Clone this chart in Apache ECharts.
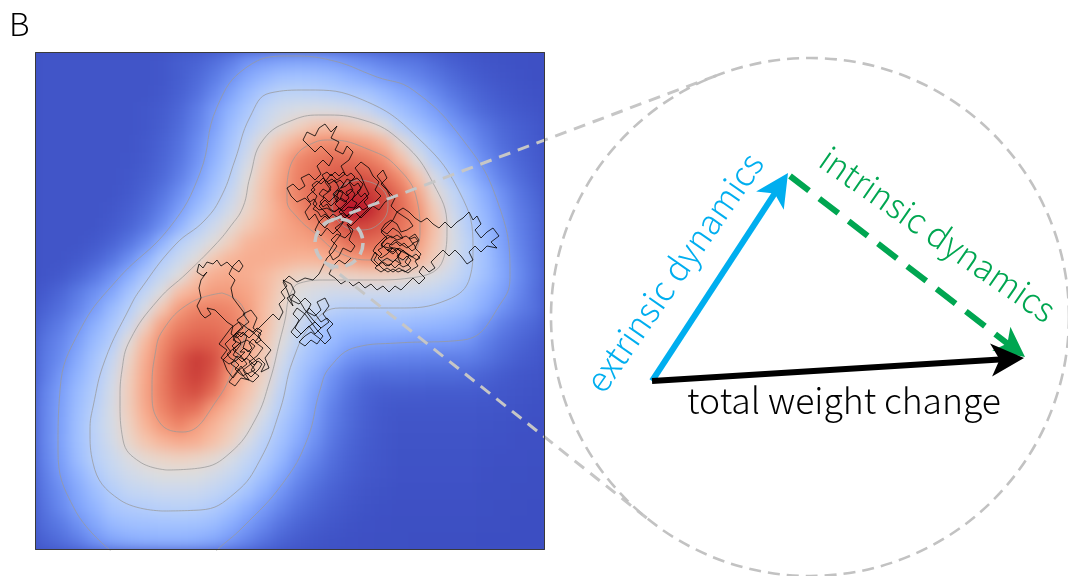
<!DOCTYPE html>
<html><head><meta charset="utf-8">
<script src="https://cdn.jsdelivr.net/npm/echarts@6/dist/echarts.min.js"></script>
<style>
html,body{margin:0;padding:0;background:#fff;}
#wrap{position:relative;width:1068px;height:576px;overflow:hidden;}
#heatClip{position:absolute;left:35px;top:52px;width:510px;height:498px;overflow:hidden;background:#3e50c3;}
#heat{position:absolute;left:-20px;top:-20px;width:550px;height:538px;filter:blur(6.5px);}
#main{position:absolute;left:0;top:0;width:1068px;height:576px;}
</style>
</head><body><div id="wrap"><div id="heatClip"><div id="heat"></div></div><div id="main"></div></div>
<script>
// ---------- density field (rows top -> bottom, 30 x 30 cells) ----------
const colCats = [0,1,2,3,4,5,6,7,8,9,10,11,12,13,14,15,16,17,18,19,20,21,22,23,24,25,26,27,28,29];
const rowCats = [0,1,2,3,4,5,6,7,8,9,10,11,12,13,14,15,16,17,18,19,20,21,22,23,24,25,26,27,28,29];
const density = [
[0.1,0.1,0.1,0.1,0.1,0.1,0.1,0.13,0.2,0.25,0.38,0.55,0.84,0.95,1.05,1.08,1.05,0.98,0.85,0.72,0.6,0.5,0.45,0.33,0.22,0.15,0.1,0.08,0.06,0.05],
[0.1,0.1,0.1,0.1,0.1,0.1,0.1,0.13,0.2,0.33,0.52,0.8,1.15,1.4,1.6,1.65,1.6,1.5,1.33,1.15,0.95,0.8,0.65,0.5,0.35,0.23,0.15,0.1,0.07,0.05],
[0.1,0.1,0.1,0.1,0.1,0.1,0.1,0.14,0.24,0.4,0.7,1.08,1.48,1.87,2.15,2.15,2.1,1.97,1.85,1.73,1.47,1.2,1.0,0.72,0.5,0.35,0.23,0.15,0.1,0.07],
[0.1,0.1,0.1,0.1,0.1,0.1,0.12,0.18,0.31,0.55,0.93,1.35,1.78,2.3,2.6,2.75,2.8,2.75,2.64,2.38,1.9,1.6,1.3,1.0,0.72,0.48,0.32,0.22,0.15,0.1],
[0.1,0.1,0.1,0.1,0.1,0.1,0.13,0.2,0.36,0.62,1.02,1.53,2.02,2.49,2.96,3.2,3.4,3.47,3.35,3.18,2.85,2.05,1.68,1.32,0.97,0.72,0.48,0.32,0.22,0.15],
[0.1,0.1,0.1,0.1,0.1,0.1,0.15,0.25,0.42,0.74,1.18,1.69,2.32,3.05,3.4,3.7,4.03,4.1,3.95,3.85,3.6,3.05,2.23,1.7,1.3,0.9,0.6,0.38,0.25,0.16],
[0.1,0.1,0.1,0.1,0.1,0.11,0.16,0.28,0.48,0.82,1.32,1.86,2.6,3.23,3.69,4.15,4.35,4.5,4.5,4.35,4.05,3.5,2.9,2.0,1.57,1.15,0.75,0.48,0.3,0.18],
[0.1,0.1,0.1,0.1,0.1,0.12,0.2,0.33,0.58,0.97,1.5,2.05,2.87,3.37,3.8,4.25,4.5,4.75,4.9,4.85,4.5,4.05,3.42,2.66,1.88,1.42,0.95,0.6,0.38,0.22],
[0.1,0.1,0.1,0.1,0.1,0.15,0.26,0.45,0.78,1.23,1.73,2.33,3.03,3.45,3.87,4.24,4.59,4.95,5.5,5.45,5.0,4.44,3.8,3.07,2.36,1.74,1.23,0.8,0.48,0.28],
[0.1,0.1,0.1,0.1,0.12,0.21,0.35,0.6,1.0,1.52,2.05,2.63,3.12,3.45,3.78,4.1,4.57,5.0,5.95,5.7,5.1,4.57,4.02,3.3,2.56,1.87,1.38,0.9,0.55,0.35],
[0.1,0.1,0.1,0.1,0.16,0.27,0.47,0.8,1.34,1.97,2.49,3.0,3.3,3.55,3.75,3.9,4.1,4.54,5.05,5.1,4.8,4.42,4.05,3.45,2.78,1.98,1.48,1.0,0.6,0.37],
[0.1,0.1,0.1,0.15,0.26,0.45,0.78,1.36,2.05,2.48,2.92,3.25,3.6,3.7,3.75,3.8,3.85,4.05,4.48,4.55,4.4,4.3,3.9,3.37,2.8,2.15,1.59,1.06,0.65,0.4],
[0.1,0.1,0.15,0.26,0.45,0.78,1.3,1.95,2.43,2.9,3.35,3.6,3.7,3.7,3.65,3.6,3.6,3.7,3.85,4.0,4.0,4.0,3.67,3.25,2.7,2.1,1.62,1.14,0.7,0.42],
[0.1,0.15,0.28,0.48,0.8,1.25,1.82,2.36,2.87,3.4,3.7,3.75,3.7,3.55,3.35,3.15,3.1,3.1,3.17,3.2,3.2,3.1,3.0,2.74,2.45,2.0,1.6,1.17,0.75,0.44],
[0.16,0.3,0.52,0.8,1.13,1.68,2.26,2.88,3.48,3.7,3.9,3.9,3.8,3.55,3.22,2.85,2.7,2.55,2.55,2.55,2.55,2.5,2.44,2.3,2.05,1.72,1.38,1.05,0.68,0.4],
[0.25,0.4,0.65,1.0,1.48,2.0,2.73,3.36,3.92,4.2,4.25,4.15,3.9,3.5,3.12,2.77,2.45,2.1,1.96,1.96,1.96,1.95,1.88,1.8,1.67,1.5,1.2,0.83,0.58,0.4],
[0.36,0.55,0.88,1.3,1.75,2.39,3.21,3.86,4.25,4.45,4.45,4.3,3.95,3.5,3.05,2.46,1.9,1.62,1.54,1.5,1.5,1.5,1.43,1.38,1.3,1.15,0.83,0.58,0.4,0.28],
[0.45,0.68,1.03,1.5,1.95,2.95,3.55,4.1,4.55,4.75,4.7,4.4,3.83,3.39,2.9,2.17,1.68,1.47,1.19,1.09,1.05,1.0,0.97,0.96,0.95,0.85,0.6,0.42,0.29,0.19],
[0.5,0.75,1.2,1.69,2.31,3.12,3.7,4.24,4.85,5.3,5.0,4.2,3.71,3.27,2.66,1.89,1.53,1.17,0.84,0.7,0.66,0.63,0.61,0.59,0.58,0.57,0.45,0.32,0.21,0.15],
[0.53,0.9,1.35,1.82,2.51,3.22,3.76,4.3,4.9,5.25,4.85,3.95,3.56,3.16,2.42,1.74,1.29,0.84,0.57,0.4,0.38,0.37,0.36,0.35,0.35,0.33,0.26,0.18,0.13,0.1],
[0.63,1.0,1.48,1.94,2.62,3.25,3.79,4.3,4.8,5.0,4.5,3.79,3.41,3.03,2.16,1.6,1.11,0.72,0.43,0.26,0.21,0.2,0.19,0.18,0.18,0.18,0.16,0.13,0.1,0.08],
[0.65,1.03,1.55,2.06,2.69,3.25,3.74,4.2,4.55,4.45,3.88,3.56,3.23,2.76,1.97,1.48,1.0,0.6,0.38,0.23,0.15,0.13,0.12,0.12,0.12,0.12,0.11,0.1,0.08,0.06],
[0.65,1.05,1.59,2.12,2.67,3.18,3.6,3.95,4.2,3.9,3.62,3.34,3.06,2.41,1.79,1.33,0.92,0.55,0.35,0.21,0.14,0.1,0.1,0.1,0.1,0.1,0.09,0.08,0.06,0.05],
[0.65,1.06,1.59,2.1,2.61,3.1,3.38,3.6,3.72,3.68,3.45,3.2,2.7,2.1,1.63,1.19,0.8,0.48,0.3,0.18,0.12,0.09,0.09,0.09,0.09,0.09,0.07,0.07,0.05,0.05],
[0.63,1.0,1.53,2.04,2.42,2.8,3.05,3.15,3.2,3.15,3.05,2.72,2.31,1.89,1.42,0.95,0.65,0.4,0.25,0.16,0.11,0.08,0.08,0.08,0.08,0.08,0.06,0.05,0.05,0.04],
[0.55,0.92,1.33,1.8,2.23,2.55,2.72,2.85,2.85,2.83,2.64,2.4,2.03,1.59,1.15,0.75,0.5,0.33,0.22,0.14,0.1,0.07,0.07,0.07,0.07,0.07,0.05,0.04,0.04,0.03],
[0.5,0.78,1.17,1.56,1.94,2.25,2.35,2.45,2.45,2.43,2.25,2.05,1.7,1.27,0.88,0.58,0.38,0.25,0.16,0.1,0.08,0.06,0.06,0.06,0.06,0.06,0.04,0.04,0.03,0.03],
[0.43,0.7,1.05,1.36,1.73,1.88,1.95,2.05,2.07,2.05,1.88,1.6,1.26,0.93,0.65,0.42,0.28,0.18,0.12,0.08,0.06,0.05,0.05,0.05,0.05,0.05,0.04,0.03,0.03,0.02],
[0.36,0.52,0.8,1.12,1.43,1.58,1.6,1.64,1.64,1.62,1.5,1.25,0.95,0.68,0.43,0.28,0.18,0.12,0.08,0.06,0.05,0.04,0.04,0.04,0.04,0.04,0.03,0.03,0.02,0.02],
[0.25,0.38,0.55,0.84,1.08,1.2,1.27,1.3,1.3,1.25,1.12,0.9,0.65,0.43,0.27,0.17,0.11,0.08,0.06,0.05,0.04,0.04,0.03,0.03,0.03,0.03,0.02,0.02,0.02,0.02]
];

// ---------- contour lines in weight-space units (x 0..510, y 0..498 downward) ----------
const contourA = [[75,498],[40,458],[23,398],[25,338],[45,278],[82,228],[135,175],[165,121],[182,55],[212,15],[255,4],[295,8],[342,25],[378,38],[428,88],[462,148],[475,221],[468,248],[428,288],[362,291],[322,295],[295,315],[285,338],[272,388],[248,431],[208,475],[182,498],[165,515],[95,515],[75,498]];
const contourB = [[128,459],[85,448],[58,411],[55,378],[58,355],[70,308],[95,255],[105,238],[140,193],[170,168],[187,143],[200,108],[215,65],[235,41],[272,38],[328,48],[382,85],[425,141],[438,195],[435,225],[412,248],[362,256],[305,256],[278,271],[258,308],[245,358],[225,408],[200,441],[165,458],[128,459]];
const contourC = [[132,418],[105,410],[88,388],[85,348],[87,318],[95,288],[123,248],[152,221],[180,193],[195,175],[208,155],[215,125],[228,88],[258,68],[288,63],[328,68],[368,91],[398,131],[412,175],[408,208],[382,225],[335,228],[292,228],[265,231],[255,243],[250,268],[245,288],[235,328],[220,368],[195,401],[165,416],[132,418]];
const contourD1 = [[252,135],[258,108],[278,91],[295,88],[335,98],[362,115],[382,148],[385,181],[368,208],[335,208],[305,201],[282,183],[262,165],[252,148],[252,135]];
const contourD2 = [[187,241],[205,251],[211,271],[202,305],[182,348],[148,380],[125,371],[117,338],[120,303],[128,278],[155,251],[187,241]];
const contourE = [[325,128],[345,135],[353,153],[345,171],[325,178],[305,171],[297,153],[305,135],[325,128]];

// ---------- trajectory (weight-space units) ----------
const walk = [
[200,300],[206,292],[198,288],[204,280],[212,284],[208,296],[216,300],[210,308],[202,304],[196,312],[204,318],[198,326],[192,318],[188,308],[196,300],[190,292],[198,284],[206,276],[214,270],[208,262],[216,258],[222,266],[218,276],[226,282],[220,290],[228,296],[222,304],[214,310],[220,318],[212,322],[206,314],[200,322],[194,330],[200,334],[206,326],[214,328],[208,318],[216,312],[224,306],[230,312],[226,320],[234,316],[230,306],[236,298],[228,290],[220,282],[212,276],[204,270],[196,276],[190,284],[184,292],[192,298],[186,306],[194,312],[202,308],[210,300],
[205,300],[209,296],[213,300],[217,296],[214,291],[218,287],[222,291],[226,288],[223,283],[227,279],[222,276],[218,280],[214,277],[210,281],[206,285],[202,281],[198,285],[201,290],[197,294],[201,298],[198,303],[203,306],[207,310],[211,306],[215,309],[219,313],[223,309],[227,312],[224,317],[220,321],[216,325],[212,321],[208,324],[204,321],[200,317],[204,313],[200,309],[195,306],[192,302],
[204,292],[212,288],[220,294],[214,302],[222,310],[216,318],[224,324],[218,330],[210,326],[204,318],[212,312],[206,304],[198,298],[206,290],[200,282],[208,276],[202,268],[210,262],
[204,254],[198,246],[196,236],[200,228],[194,222],[198,214],[204,208],[208,214],[204,220],[198,216],[192,210],[186,214],[182,208],[178,212],[172,210],[168,216],[164,212],[162,220],[168,224],[172,220],[166,228],[164,236],[166,246],[162,254],[166,262],[170,266],[176,262],[172,256],[180,258],[186,264],[192,270],[198,274],[196,282],[202,286],[208,280],[214,286],[220,280],[226,274],[232,268],
[238,262],[244,268],[248,260],[244,252],[250,246],[246,240],[252,234],[248,228],[256,232],[260,240],[256,248],[264,252],[270,246],[276,252],[272,260],[280,264],[286,258],[282,250],[290,246],[294,254],[288,262],[294,270],[286,276],[280,270],[272,276],[266,282],[260,276],[264,268],[258,262],[262,256],[270,262],[276,270],[282,278],[288,284],[282,292],[276,288],[270,294],[264,290],[270,284],[276,280],[284,286],[290,292],[296,286],[292,278],[298,272],[292,266],[286,270],[280,262],[274,256],[268,264],[262,272],[256,280],[262,286],[268,280],[274,274],[280,282],[286,276],[278,268],[270,258],[264,248],[258,242],[252,246],[258,254],[252,238],
[248,230],[254,224],[262,230],[270,226],[278,228],[284,222],[288,214],[292,206],[298,200],[302,194],[296,188],[302,182],[310,186],[316,180],[312,172],[318,178],[314,188],[320,194],[316,200],[308,196],[304,204],[298,208],[294,200],[300,190],
[306,182],[300,176],[308,170],[302,164],[296,170],[290,164],[284,170],[280,162],[274,168],[270,160],[276,152],[270,146],[262,150],[256,144],[252,136],[258,132],[264,138],[270,134],[266,126],[274,122],[280,128],[286,122],[282,114],[288,108],[294,114],[298,106],[292,100],[286,94],[280,100],[274,94],[268,88],[272,80],[280,84],[284,76],[290,72],[296,80],[302,74],[296,86],[304,90],[300,98],[308,102],[312,94],[318,100],[314,108],[306,114],[310,122],[302,128],[296,122],[290,130],[296,138],[288,144],[294,150],[300,144],[306,138],[312,144],[318,138],[314,130],[322,126],[328,132],[324,140],[316,148],[310,154],[304,160],[310,166],[316,160],[322,154],[328,148],[334,142],[330,134],[326,124],[320,116],[326,110],[334,116],[338,124],[344,130],[340,138],[346,144],[340,150],[334,156],[328,162],[322,168],[316,174],[310,168],[304,176],[298,182],[292,176],[286,184],[280,178],[284,170],[290,176],
[296,168],[290,160],[284,154],[290,148],[296,154],
[300,150],[304,146],[299,143],[303,138],[308,141],[305,147],[310,150],[314,146],[311,140],[316,137],[320,142],[317,148],[322,151],[319,156],[313,155],[309,159],[304,156],[300,160],[295,157],[292,152],[288,155],[285,150],[289,146],[284,142],[288,137],[293,140],[296,135],[292,130],[297,127],[301,131],[305,128],[309,132],[306,136],[311,134],[315,130],[319,134],[323,131],[326,136],[322,140],[326,145],[330,141],[333,146],[329,150],[333,155],[328,158],[324,154],[320,158],[316,162],[311,164],[307,161],[302,165],[298,162],[294,166],[290,162],[286,165],[283,160],[278,157],[282,152],[279,147],[275,150],[272,145],[276,141],[280,138],[277,133],[282,129],[286,132],[290,128],[287,123],[292,120],[296,124],[300,120],[304,124],[308,120],[312,124],[316,121],[320,125],[316,129],[312,127],[308,133],[304,138],[302,144],
[302,150],[298,142],[304,136],[300,128],[294,132],[288,126],[282,132],[276,138],[282,144],[278,152],[284,158],[292,156],[298,160],[306,156],[312,150],[306,146],[300,152],[308,160],[314,166],[320,160],[326,166],[332,160],[338,154],[344,158],[350,150],[356,146],[352,138],[346,132],[352,126],[348,118],[342,124],[348,132],[354,140],[360,146],[356,154],[362,160],[358,168],[352,174],[346,180],[352,186],
[346,192],[352,198],[358,196],[352,202],[346,206],[340,200],[336,208],[342,214],[348,210],[354,214],[360,208],[366,212],[362,204],[368,198],[374,204],[370,210],[376,216],[370,220],[364,216],[358,220],[352,216],[346,220],[340,216],[346,210],[352,206],[358,210],[364,204],[360,198],[354,194],[360,188],[366,192],[372,196],[378,192],[374,186],[380,182],[384,188],[380,196],[386,202],[382,208],[376,204],[370,200],[364,196],[358,202],[352,198],
[350,200],[354,196],[358,200],[362,196],[366,200],[363,205],[368,208],[372,204],[376,208],[373,213],[368,215],[364,212],[360,216],[356,212],[351,214],[347,210],[343,206],[347,202],[343,198],[348,195],[352,191],[357,193],[361,190],[365,194],[369,191],[373,195],[377,199],[381,196],[378,191],[383,189],[380,185],[375,187],[371,184],[366,186],[362,183],[357,186],[353,183],[349,186],[345,190],[341,194],[338,199],[342,203],[339,208],[343,212],[348,217],[353,220],[358,217],[363,220],[368,218],[373,221],[378,217],[383,214],[380,209],[385,206],[381,202],[377,205],[372,202],[366,199],[360,196],[354,196],[350,195],
[346,194],[350,188],[356,184],[362,188],[368,186],[364,180],[358,176],[352,182],[346,178],[350,172],[356,168],[362,172],[366,180],[372,178],[378,174],[374,168],[368,164],[362,160],[368,156],[374,160],[380,166],[386,170],[392,166],
[398,172],[404,176],[410,170],[416,176],[422,170],[428,166],[434,160],[438,168],[442,164],[446,172],[440,178],[446,186],[452,180],[458,176],[464,184],[456,190],[462,196],[452,194],[446,200],[440,194],[434,200],[438,208],[432,212],[426,204],[420,198],[414,204],[408,198],[402,204],[396,210],[400,216],[394,220],[388,214],[384,220],[390,226],
[384,232],[378,226],[372,232],[366,238],[360,234],[354,240],[348,234],[342,238],[336,232],[330,236],[324,230],[318,234],[312,228],[306,232],[300,226],[294,222],[298,214],[304,208],[310,212],[316,206]
];

// ---------- right-hand vector diagram (canvas units) ----------
const vecTail = [652, 381];
const extrinsicTip = [788, 173];
const intrinsicStart = [790, 176];
const intrinsicTip = [1025, 357];
const totalTip = [1024, 358];
const lensSmall = { c: [339, 243], r: 24 };
const lensBig = { c: [810, 317], r: 259 };

// ---------- colour scale: coolwarm, with the level -> tone mapping ----------
const coolwarmTable = [[59,76,192],[68,90,204],[77,104,215],[87,117,225],[98,130,234],[108,142,241],[119,154,247],[130,165,251],[141,176,254],[152,185,255],[163,194,255],[174,201,253],[184,208,249],[194,213,244],[204,217,238],[213,219,230],[221,221,221],[229,216,209],[236,211,197],[241,204,185],[245,196,173],[247,187,160],[247,177,148],[247,166,135],[244,154,123],[241,141,111],[236,127,99],[229,112,88],[222,96,77],[213,80,66],[203,62,56],[192,40,47],[180,4,38]];
const toneAtHalfLevels = [0,0.1,0.2,0.29,0.37,0.44,0.52,0.65,0.77,0.85,0.91,0.96,1.0];
function lerp(a, b, f) { return a + (b - a) * f; }
function cw(t) { const p = Math.max(0, Math.min(1, t)) * 32, i = Math.min(31, Math.floor(p)), f = p - i;
  const a = coolwarmTable[i], b = coolwarmTable[i + 1];
  return 'rgb(' + [0,1,2].map(k => Math.round(lerp(a[k], b[k], f))).join(',') + ')'; }
const heatColors = [];
for (let s = 0; s <= 48; s++) { const v = s / 8, p = v * 2, i = Math.min(11, Math.floor(p)), f = p - i;
  heatColors.push(cw(lerp(toneAtHalfLevels[i], toneAtHalfLevels[i + 1], f))); }

const heatData = [];
density.forEach((row, j) => row.forEach((v, i) => heatData.push([i, j, v])));

// ---------- bottom layer: the density heatmap ----------
const heat = echarts.init(document.getElementById('heat'));
heat.setOption({
  animation: false,
  backgroundColor: '#3e50c3',
  grid: { left: 20, top: 20, width: 510, height: 498, show: false },
  xAxis: { type: 'category', data: colCats, show: false },
  yAxis: { type: 'category', data: rowCats, inverse: true, show: false },
  visualMap: { show: false, type: 'continuous', min: 0, max: 6, inRange: { color: heatColors } },
  series: [{ type: 'heatmap', data: heatData, silent: true, progressive: 0, itemStyle: { borderWidth: 0 }, emphasis: { disabled: true } }]
});

// ---------- top layer ----------
// connectors: the two outer common tangents of the small and the big lens circle
function outerTangents(c1, r1, c2, r2) {
  const dx = c2[0] - c1[0], dy = c2[1] - c1[1], D = Math.hypot(dx, dy);
  const base = Math.atan2(dy, dx), a = Math.acos((r1 - r2) / D);
  return [base - a, base + a].map(th => { const n = [Math.cos(th), Math.sin(th)];
    return [[c1[0] + r1 * n[0], c1[1] + r1 * n[1]], [c2[0] + r2 * n[0], c2[1] + r2 * n[1]]]; });
}
const connectors = outerTangents(lensSmall.c, lensSmall.r, lensBig.c, lensBig.r);

const HEAD = 'path://M50,0 L100,100 L50,74 L0,100 Z';
function shortTo(a, b, d) { const dx = b[0]-a[0], dy = b[1]-a[1], L = Math.hypot(dx, dy); return [b[0]-dx/L*d, b[1]-dy/L*d]; }
function arrowSeries(a, b, color, size, type) {
  return { type: 'lines', coordinateSystem: 'cartesian2d', xAxisIndex: 1, yAxisIndex: 1, z: 8, silent: true,
    symbol: ['none', HEAD], symbolSize: [1, size],
    lineStyle: { color: color, width: 6, opacity: 1, type: type || 'solid', cap: 'butt' },
    data: [{ coords: [a, shortTo(a, b, size / 2)] }] };
}
const contourStyle = { color: '#9a9a9a', width: 0.75 };
function contourSeries(d) {
  return { type: 'line', xAxisIndex: 0, yAxisIndex: 0, data: d, smooth: 0.45, symbol: 'none', silent: true, z: 3, lineStyle: contourStyle };
}
const FONT = '"Noto Sans CJK JP", "Noto Sans", sans-serif';
function label(text, x, y, deg, color, size) {
  return { type: 'text', z: 20, x: x, y: y, rotation: deg * Math.PI / 180, silent: true,
    style: { text: text, fontSize: size, fontWeight: 300, fontFamily: FONT, fill: color, align: 'center', verticalAlign: 'middle', textAlign: 'center', textVerticalAlign: 'middle' } };
}

const chart = echarts.init(document.getElementById('main'));
chart.setOption({
  animation: false,
  backgroundColor: 'transparent',
  grid: [
    { left: 35, top: 52, width: 510, height: 498, show: false },
    { left: 0, top: 0, width: 1068, height: 576, show: false }
  ],
  xAxis: [
    { type: 'value', gridIndex: 0, min: 0, max: 510, show: false },
    { type: 'value', gridIndex: 1, min: 0, max: 1068, show: false }
  ],
  yAxis: [
    { type: 'value', gridIndex: 0, min: 0, max: 498, inverse: true, show: false },
    { type: 'value', gridIndex: 1, min: 0, max: 576, inverse: true, show: false }
  ],
  series: [
    contourSeries(contourA), contourSeries(contourB), contourSeries(contourC),
    contourSeries(contourD1), contourSeries(contourD2), contourSeries(contourE),
    { type: 'line', xAxisIndex: 0, yAxisIndex: 0, data: walk, symbol: 'none', silent: true, z: 4,
      lineStyle: { color: '#000', width: 0.8 } },
    { type: 'lines', coordinateSystem: 'cartesian2d', xAxisIndex: 1, yAxisIndex: 1, z: 6, silent: true,
      lineStyle: { color: '#c6c6c6', width: 3, opacity: 1, type: [12, 8] },
      data: connectors.map(c => ({ coords: c })) },
    { type: 'scatter', xAxisIndex: 1, yAxisIndex: 1, z: 6, silent: true, data: [lensSmall.c], symbolSize: lensSmall.r * 2,
      itemStyle: { color: 'rgba(0,0,0,0)', borderColor: '#c6c6c6', borderWidth: 3.5, borderType: [12, 7], opacity: 1 } },
    { type: 'scatter', xAxisIndex: 1, yAxisIndex: 1, z: 6, silent: true, data: [lensBig.c], symbolSize: lensBig.r * 2,
      itemStyle: { color: 'rgba(0,0,0,0)', borderColor: '#c2c2c2', borderWidth: 2.6, borderType: [12, 7], opacity: 1 } },
    arrowSeries(vecTail, extrinsicTip, '#00aeef', 33),
    arrowSeries(intrinsicStart, intrinsicTip, '#00a651', 30, [24, 13]),
    arrowSeries(vecTail, totalTip, '#000000', 33)
  ],
  graphic: [
    { type: 'rect', z: 20, silent: true, shape: { x: 35.5, y: 52.5, width: 509, height: 497 },
      style: { fill: 'none', stroke: '#3a3a3a', lineWidth: 1 } },
    { type: 'text', z: 20, x: 9, y: 24, silent: true,
      style: { text: 'B', fontSize: 32, fontWeight: 300, fontFamily: FONT, fill: '#000', align: 'left', verticalAlign: 'middle', textAlign: 'left', textVerticalAlign: 'middle' } },
    label('total weight change', 844, 401, 0, '#000', 35.5),
    label('extrinsic dynamics', 674, 272, 55.1, '#00aeef', 34),
    label('intrinsic dynamics', 938, 234, -34.8, '#00a651', 34)
  ]
});
</script></body></html>
